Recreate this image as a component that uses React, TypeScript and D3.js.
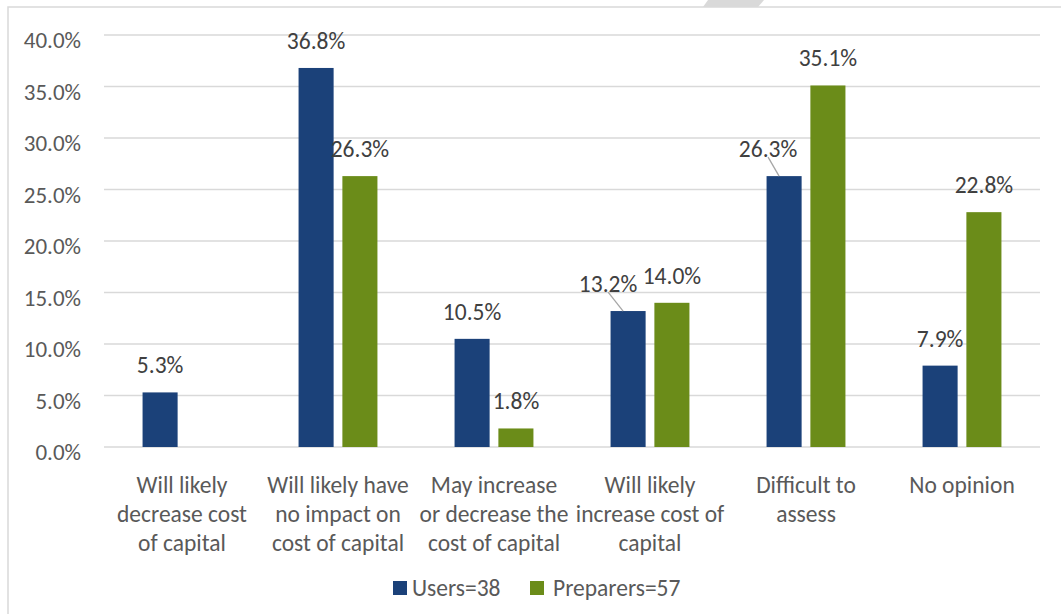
import React from "react";
import * as d3 from "d3";

const categories = [
  ["Will likely", "decrease cost", "of capital"],
  ["Will likely have", "no impact on", "cost of capital"],
  ["May increase", "or decrease the", "cost of capital"],
  ["Will likely", "increase cost of", "capital"],
  ["Difficult to", "assess"],
  ["No opinion"],
];
const users = [0.053, 0.368, 0.105, 0.132, 0.263, 0.079];
const preparers = [null, 0.263, 0.018, 0.14, 0.351, 0.228];
const yTicks = [0, 0.05, 0.1, 0.15, 0.2, 0.25, 0.3, 0.35, 0.4];
const seriesNames = ["Users=38", "Preparers=57"];
// label nudges where Excel moved a label off its bar (px, with leader line)
const usersLabelShift = [0, 0, 0, -20, -16, 0];

const colors = ["#1b4179", "#6b8c19"];
const FONT = "Carlito, Lato, sans-serif";
const FS = 23.5;
const W = 1061;
const H = 614;
const margin = { left: 104, right: 21, top: 35, bottom: 167 };

const App = () => {
  const x0 = d3
    .scaleBand<number>()
    .domain(categories.map((_, i) => i))
    .range([margin.left, W - margin.right]);

  const x1 = d3
    .scaleBand<number>()
    .domain([0, 1])
    .range([0, x0.bandwidth()])
    .paddingInner(0.2)
    .paddingOuter(0.88);

  const y = d3
    .scaleLinear()
    .domain([0, 0.4])
    .range([H - margin.bottom, margin.top]);

  const fmt = d3.format(".1%");
  const series = [users, preparers];

  return (
    <svg
      width={W}
      height={H}
      style={{ position: "absolute", left: 0, top: 0, background: "#fff" }}
    >
      <rect x={8} y={7} width={W + 10} height={H + 10} fill="none" stroke="#d9d9d9" strokeWidth={1.5} />
      <polygon points="708,0 764,0 758,7 703,7" fill="#d9d9d9" />

      {yTicks.map(t => (
        <g key={t}>
          <line x1={margin.left} x2={W - margin.right} y1={y(t)} y2={y(t)} stroke="#d9d9d9" strokeWidth={1.3} />
          <text x={81} y={y(t) + 13} textAnchor="end" fontFamily={FONT} fontSize={FS - 0.5} fill="#595959">
            {fmt(t)}
          </text>
        </g>
      ))}

      {series.map((vals, s) =>
        vals.map((v, i) => {
          if (v == null) return null;
          const bx = x0(i)! + x1(s)!;
          const cx = bx + x1.bandwidth() / 2;
          const shift = s === 0 ? usersLabelShift[i] : 0;
          const lx = cx + shift;
          const ly = y(v) - 19;
          return (
            <g key={`${s}-${i}`}>
              <rect x={bx} y={y(v)} width={x1.bandwidth()} height={y(0) - y(v)} fill={colors[s]} />
              {shift !== 0 && (
                <line x1={lx} y1={ly} x2={cx - 5} y2={y(v)} stroke="#a6a6a6" strokeWidth={1.3} />
              )}
              <text x={lx} y={ly} textAnchor="middle" fontFamily={FONT} fontSize={FS} fill="#404040">
                {fmt(v)}
              </text>
            </g>
          );
        })
      )}

      {categories.map((lines, i) => (
        <text key={i} textAnchor="middle" fontFamily={FONT} fontSize={FS} fill="#595959">
          {lines.map((l, j) => (
            <tspan key={j} x={x0(i)! + x0.bandwidth() / 2} y={493 + j * 29}>
              {l}
            </tspan>
          ))}
        </text>
      ))}

      <g>
        <rect x={393} y={581} width={14} height={14} fill={colors[0]} />
        <text x={412} y={596} fontFamily={FONT} fontSize={FS} fill="#595959">{seriesNames[0]}</text>
        <rect x={530} y={581} width={14} height={14} fill={colors[1]} />
        <text x={553} y={596} fontFamily={FONT} fontSize={FS} fill="#595959">{seriesNames[1]}</text>
      </g>
    </svg>
  );
};

export default App;
